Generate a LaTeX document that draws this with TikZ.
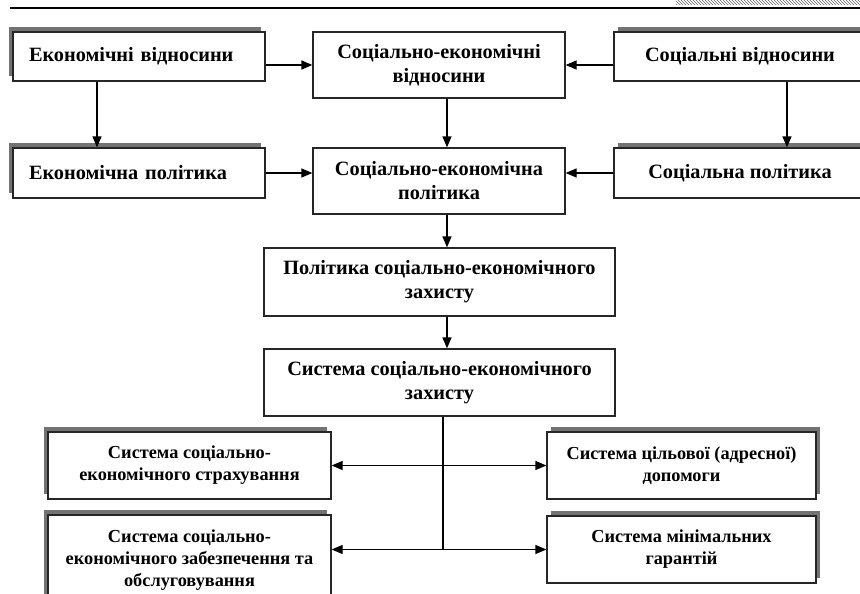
\documentclass[tikz,border=0pt]{standalone}
\usepackage{fontspec}
\setmainfont{Liberation Serif}
\usetikzlibrary{arrows.meta,shadows,patterns}

\tikzset{
  box/.style={draw=black!85, line width=1.3pt, fill=white, inner sep=0pt, align=center,
    font=\bfseries\fontsize{20.3}{24}\selectfont},
  smallbox/.style={box, font=\bfseries\fontsize{18.3}{22}\selectfont},
  shadowleft/.style={drop shadow={shadow xshift=-4pt, shadow yshift=5pt, fill=black!55, opacity=1}},
  shadowright/.style={drop shadow={shadow xshift=4pt, shadow yshift=5pt, fill=black!55, opacity=1}},
  arr/.style={line width=1.3pt, -{Triangle[length=11pt,width=9pt]}},
}

\begin{document}
\begin{tikzpicture}[x=1pt,y=-1pt]
\useasboundingbox (0,0) rectangle (860,594);
\clip (0,0) rectangle (860,594);
% Header
\draw[line width=2.6pt] (10,8) -- (860,8);
\fill[pattern=north west lines, pattern color=black!60] (676,0) rectangle (860,5);
% Axes of the vertical connectors
\coordinate (lx) at (97,0);
\coordinate (mx) at (447,0);
\coordinate (rx) at (787,0);
\coordinate (tx) at (443,0);
% Relations
\node[box, shadowleft, minimum width=252pt, minimum height=49pt, text width=220pt, align=left] (ekvid) at (139,56.5) {Економічні відносини};
\node[box, minimum width=252pt, minimum height=66pt] (sevid) at (439,65) {Соціально-економічні\\відносини};
\node[box, shadowright, minimum width=252pt, minimum height=49pt] (socvid) at (740,56.5) {Соціальні відносини};
% Policies
\node[box, shadowleft, minimum width=252pt, minimum height=50pt, text width=220pt, align=left] (ekpol) at (139,173) {Економічна політика};
\node[box, minimum width=252pt, minimum height=66pt] (sepol) at (439,181) {Соціально-економічна\\політика};
\node[box, shadowright, minimum width=252pt, minimum height=50pt] (socpol) at (740,173) {Соціальна політика};
% Protection
\node[box, minimum width=351pt, minimum height=68pt] (polzah) at (439.5,282) {Політика соціально-економічного\\захисту};
\node[box, minimum width=351pt, minimum height=67pt] (syszah) at (439.5,382.5) {Система соціально-економічного\\захисту};
% Subsystems
\node[smallbox, shadowleft, minimum width=283pt, minimum height=67pt] (strakh) at (189.5,465.5) {Система соціально-\\економічного страхування};
\node[smallbox, shadowleft, minimum width=283pt, minimum height=90pt] (zabez) at (189.5,560) {Система соціально-\\економічного забезпечення та\\обслуговування};
\node[smallbox, shadowright, minimum width=269pt, minimum height=67pt] (adres) at (681.5,465.5) {Система цільової (адресної)\\допомоги};
\node[smallbox, shadowright, minimum width=269pt, minimum height=67pt] (minim) at (681.5,549.5) {Система мінімальних\\гарантій};
% Connectors
\draw[arr] (ekvid.east |- sevid.west) -- (sevid.west);
\draw[arr] (socvid.west |- sevid.east) -- (sevid.east);
\draw[arr] (ekpol.east) -- (ekpol.east -| sepol.west);
\draw[arr] (socpol.west) -- (socpol.west -| sepol.east);
\draw[arr] (ekvid.south -| lx) -- (ekpol.north -| lx);
\draw[arr] (socvid.south -| rx) -- (socpol.north -| rx);
\draw[arr] (sevid.south -| mx) -- (sepol.north -| mx);
\draw[arr] (sepol.south -| mx) -- (polzah.north -| mx);
\draw[arr] (polzah.south -| mx) -- (syszah.north -| mx);
\draw[line width=1.3pt] (syszah.south -| tx) -- (tx |- minim.west);
\draw[arr] (tx |- adres.west) -- (adres.west);
\draw[arr] (tx |- adres.west) -- (strakh.east |- adres.west);
\draw[arr] (tx |- minim.west) -- (minim.west);
\draw[arr] (tx |- minim.west) -- (zabez.east |- minim.west);
\end{tikzpicture}
\end{document}
